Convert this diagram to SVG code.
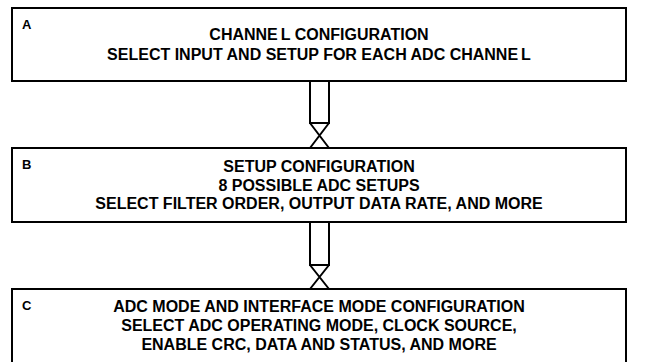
<svg xmlns="http://www.w3.org/2000/svg" width="646" height="362" viewBox="0 0 646 362">
<style>
.box{fill:#fff;stroke:#000;stroke-width:2}
.t{font-family:"Liberation Sans",Arial,sans-serif;font-weight:bold;font-size:16px;fill:#000;text-anchor:middle}
.lbl{font-family:"Liberation Sans",Arial,sans-serif;font-weight:bold;font-size:13px;fill:#000}
.c{fill:none;stroke:#000;stroke-width:2}
</style>
<rect width="646" height="362" fill="#fff"/>
<g id="connectors">
<path class="c" d="M310,81 V123 H329 V81 M310,123 L329,148 M329,123 L310,148"/>
<path class="c" d="M310,222 V265 H329 V222 M310,265 L329,289 M329,265 L310,289"/>
</g>
<g id="nodeA">
<rect class="box" x="12" y="8" width="614" height="73"/>
<text class="lbl" x="22" y="29">A</text>
<text class="t" x="319" y="40">CHANNE<tspan dx="3">L</tspan> CONFIGURATION</text>
<text class="t" x="319" y="60">SELECT INPUT AND SETUP FOR EACH ADC CHANNE<tspan dx="3">L</tspan></text>
</g>
<g id="nodeB">
<rect class="box" x="12" y="148" width="614" height="74"/>
<text class="lbl" x="22" y="169">B</text>
<text class="t" x="319" y="172">SETUP CONFIGURATION</text>
<text class="t" x="319" y="190.5">8 POSSIBLE ADC SETUPS</text>
<text class="t" x="319" y="209">SELECT FILTER ORDER, OUTPUT DATA RATE, AND MORE</text>
</g>
<g id="nodeC">
<rect class="box" x="12" y="289" width="614" height="80"/>
<text class="lbl" x="22" y="310">C</text>
<text class="t" x="319" y="312">ADC MODE AND INTERFACE MODE CONFIGURATION</text>
<text class="t" x="319" y="331">SELECT ADC OPERATING MODE, CLOCK SOURCE,</text>
<text class="t" x="319" y="350">ENABLE CRC, DATA AND STATUS, AND MORE</text>
</g>
</svg>
